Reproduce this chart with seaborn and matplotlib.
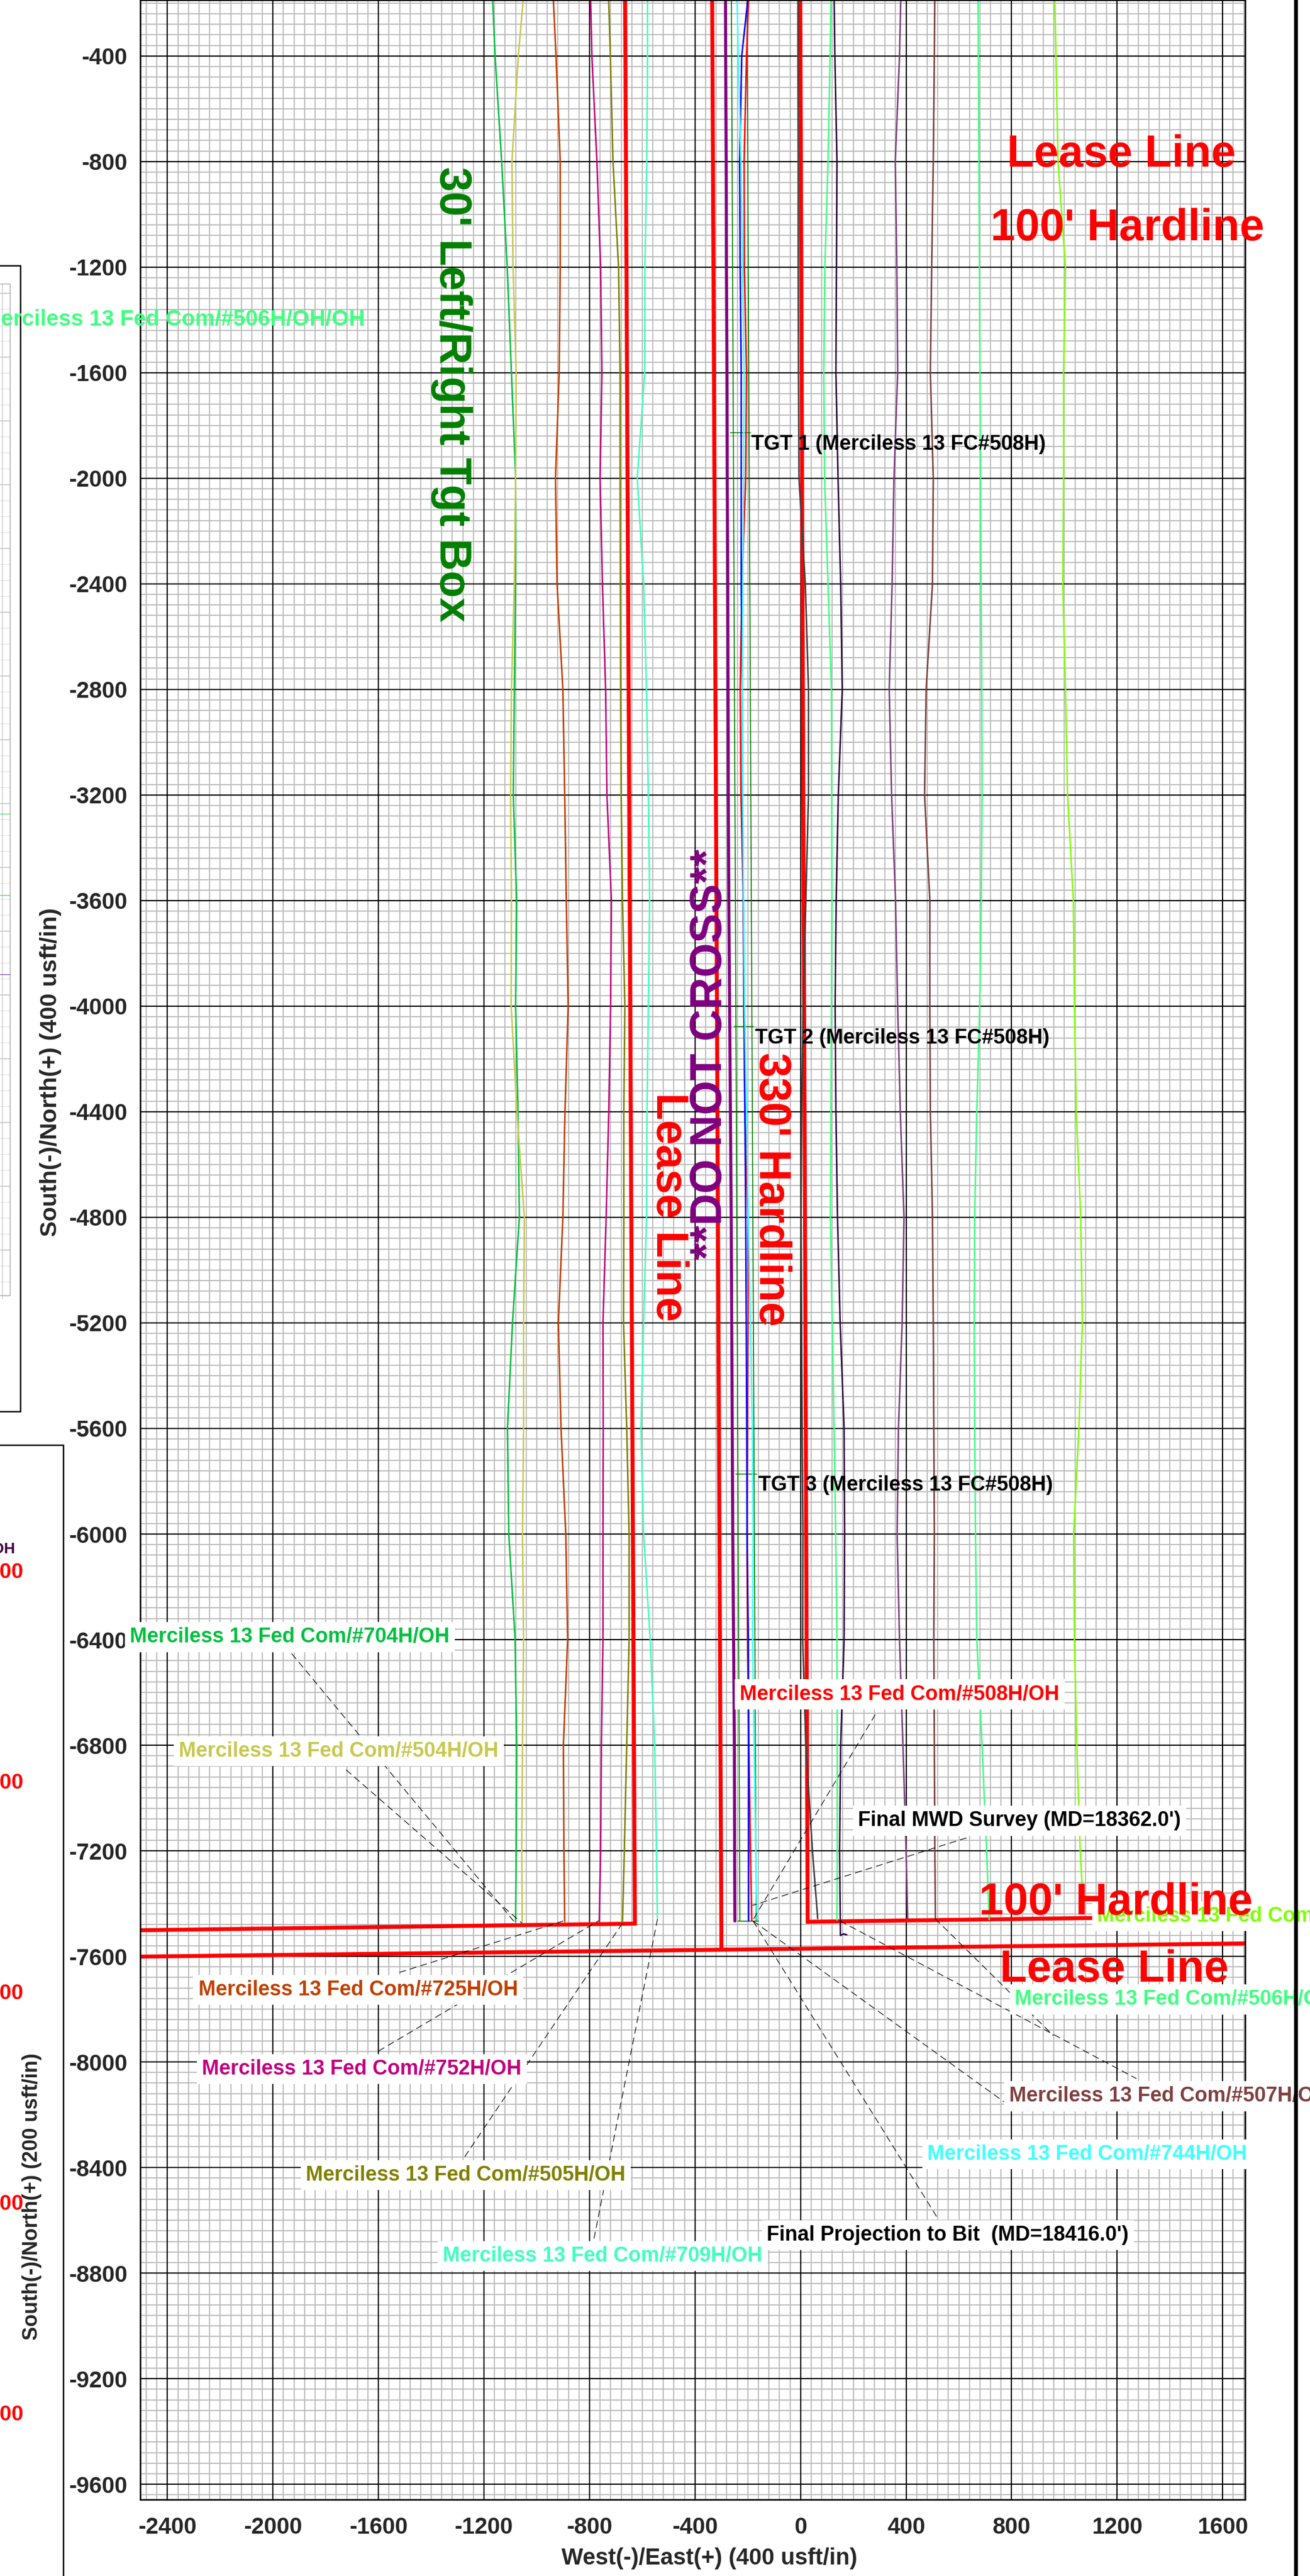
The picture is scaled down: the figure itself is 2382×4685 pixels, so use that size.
import numpy as np
import pandas as pd
import matplotlib
matplotlib.use("Agg")
import matplotlib.pyplot as plt
import seaborn as sns
from matplotlib.ticker import MultipleLocator
from matplotlib.lines import Line2D
from matplotlib.patches import Rectangle

W, H = 2382, 4685

# ---------------- well data (West/East offset at each South/North depth) ----------------
depth = [0, -400, -800, -1200, -1600, -2000, -2400, -2800, -3200, -3600,
         -4000, -4400, -4800, -5200, -5600, -6000, -6400, -6800, -7200]

x_704h = [-1175, -1158, -1133, -1112, -1096, -1080, -1080, -1085, -1089, -1076,
          -1080, -1071, -1066, -1092, -1111, -1106, -1082, -1076, -1078]
x_504h = [-1035, -1070, -1094, -1090, -1078, -1080, -1085, -1096, -1099, -1096,
          -1097, -1075, -1047, -1050, -1050, -1054, -1050, -1054, -1057]
x_725h = [-946, -927, -911, -911, -915, -929, -923, -901, -894, -888,
          -881, -893, -901, -918, -908, -890, -883, -899, -897]
x_752h = [-800, -791, -772, -758, -753, -760, -751, -739, -734, -717,
          -720, -727, -737, -749, -748, -749, -749, -755, -758]
x_505h = [-733, -721, -711, -690, -684, -684, -683, -682, -680, -675,
          -666, -670, -670, -671, -659, -650, -650, -659, -668]
x_709h = [-580, -580, -583, -590, -591, -619, -595, -584, -577, -572,
          -577, -582, -584, -595, -605, -595, -570, -553, -546]
x_508h = [-190, -205, -214, -213, -205, -208, -222, -229, -226, -217,
          -215, -211, -199, -199, -201, -203, -201, -196, -190]
x_blue = [-180, -223, -231, -229, -225, -225, -225, -221, -220, -217,
          -214, -211, -208, -206, -204, -203, -198, -197, -197]
x_744h = [-245, -236, -226, -220, -214, -216, -219, -221, -219, -216,
          -212, -205, -198, -190, -183, -180, -182, -176, -170]
x_grey = [-10, -10, -9, -9, -8, -6, 18, 30, 30, 20,
          10, 4, 2, 4, 6, 9, 8, 20, 45]
x_green = [118, 112, 104, 92, 88, 91, 104, 117, 118, 119,
           117, 115, 113, 120, 127, 133, 138, 139, 139]
x_dkpurple = [125, 130, 138, 136, 134, 142, 152, 158, 143, 135,
              131, 134, 140, 150, 165, 167, 165, 152, 148]
x_purple = [384, 375, 359, 365, 368, 354, 347, 336, 345, 360,
            368, 378, 392, 385, 371, 366, 375, 388, 400]
x_507h = [510, 507, 503, 497, 492, 503, 500, 476, 470, 490,
          490, 492, 500, 503, 505, 507, 505, 507, 509]
x_506h = [672, 674, 676, 678, 680, 682, 684, 687, 688, 685,
          679, 668, 660, 658, 660, 663, 668, 688, 705]
x_lime = [960, 968, 976, 1004, 997, 997, 994, 1004, 1012, 1034,
          1038, 1045, 1062, 1068, 1055, 1035, 1038, 1047, 1060]
x_plan = [-285, -284, -282, -281, -279, -278, -276, -275, -274, -272,
          -269, -266, -263, -261, -259, -257, -254, -251, -250]

well_names = ['704H', '504H', '725H', '752H', '505H', '709H', '508H', 'blue', '744H',
              'grey', 'green', 'dkpurple', 'purple', '507H', '506H', 'lime']
well_x = [x_704h, x_504h, x_725h, x_752h, x_505h, x_709h, x_508h, x_blue, x_744h,
          x_grey, x_green, x_dkpurple, x_purple, x_507h, x_506h, x_lime]
well_colors = ['#00C040', '#C8C850', '#C04000', '#C0007F', '#808000', '#40FFC0', '#FF0000',
               '#0000FF', '#40FFFF', '#404040', '#40FF80', '#300A40', '#804080', '#804040',
               '#40FF80', '#80FF00']
end_x = [-1080, -1055, -894, -763, -675, -543, -185, -197, -165,
         65, 138, 151, 406, 511, 715, 1072]
end_y = [-7470, -7470, -7468, -7468, -7470, -7455, -7466, -7466, -7462,
         -7457, -7462, -7521, -7457, -7457, -7460, -7420]
dp_hook_x = [163, 175]
dp_hook_y = [-7515, -7518]
plan_end = (-249, -7466)

# lease / hardline boundaries
hl_west_x = [-2503, -628, -666]
hl_west_y = [-7501, -7476, 0]
lease_v_x = [-336, -300]
lease_v_y = [0, -7574]
lease_h_x = [-2503, 1685]
lease_h_y = [-7601, -7551]
hl_east_x = [-2, 27, 1450]
hl_east_y = [0, -7469, -7450]

# 30' target box
tb_y = [0, -7466]
tb_left_x = [-263, -230]
tb_right_x = [-204, -168]
tgt_y = [-1828, -4078, -5772]
tgt_x0 = [-267, -252, -246]
tgt_x1 = [-190, -179, -167]

# leader lines (label -> well end)
lead_x0 = [-1929, -1723, -1521, -1600, -1273, -783, 283, 629, -180, -180, 150, 510]
lead_y0 = [-6453, -6893, -7661, -7959, -8359, -8669, -6684, -7151, -7466, -7466, -7466, -7457]
lead_x1 = [-1081, -1056, -896, -765, -675, -542, -178, -183, 771, 519, 1273, 958]
lead_y1 = [-7474, -7474, -7465, -7465, -7474, -7457, -7458, -7407, -8151, -8591, -8063, -7900]

label_text = ['Merciless 13 Fed Com/#704H/OH', 'Merciless 13 Fed Com/#504H/OH',
              'Merciless 13 Fed Com/#725H/OH', 'Merciless 13 Fed Com/#752H/OH',
              'Merciless 13 Fed Com/#505H/OH', 'Merciless 13 Fed Com/#709H/OH',
              'Merciless 13 Fed Com/#508H/OH', "Final MWD Survey (MD=18362.0')",
              'Merciless 13 Fed Com', 'Merciless 13 Fed Com/#506H/OH',
              'Merciless 13 Fed Com/#507H/OH', 'Merciless 13 Fed Com/#744H/OH',
              "Final Projection to Bit  (MD=18416.0')"]
label_color = ['#00C040', '#C8C850', '#C04000', '#C0007F', '#808000', '#40FFC0', '#FF0000',
               'black', '#80FF00', '#40FF80', '#804040', '#40FFFF', 'black']
label_x = [-2542, -2357, -2283, -2269, -1875, -1356, -230, 218, 1125, 812, 791, 481, -128]
label_y = [-6390, -6823, -7727, -8027, -8429, -8735, -6608, -7086, -7448, -7763, -8130, -8350, -8656]

tgt_text = ['TGT 1 (Merciless 13 FC#508H)', 'TGT 2 (Merciless 13 FC#508H)',
            'TGT 3 (Merciless 13 FC#508H)']
tgt_lx = [-187, -172, -160]
tgt_ly = [-1872, -4121, -5815]

side_labels = ['-6800', '-7200', '-7600', '-8000', '-8400']
side_label_y = [2860, 3243, 3626, 4009, 4392]

# ---------------- build long table ----------------
rows = []
for name, xs, ex, ey in zip(well_names, well_x, end_x, end_y):
    for xv, yv in zip(xs, depth):
        rows.append((name, xv, yv))
    rows.append((name, ex, ey))
    if name == 'dkpurple':
        for hx, hy in zip(dp_hook_x, dp_hook_y):
            rows.append((name, hx, hy))
df = pd.DataFrame(rows, columns=['well', 'x', 'y'])
palette = dict(zip(well_names, well_colors))

plan_df = pd.DataFrame({'x': x_plan + [plan_end[0]], 'y': depth + [plan_end[1]]})

# ---------------- plotting ----------------
sns.set_style("white")
plt.rcParams['font.family'] = ['Liberation Sans', 'DejaVu Sans']
plt.rcParams['axes.unicode_minus'] = False

fig = plt.figure(figsize=(W / 100, H / 100), dpi=100)
ax = fig.add_axes([255 / W, 1 - 4546 / H, 2009 / W, 4546 / H])
ax.set_xlim(-2503, 1685)
ax.set_ylim(-9658, -188)

xt = np.arange(-2400, 1601, 400)
yt = np.arange(-9600, -399, 400)
ax.set_xticks(xt)
ax.set_yticks(yt)
ax.xaxis.set_minor_locator(MultipleLocator(40))
ax.yaxis.set_minor_locator(MultipleLocator(40))
ax.set_axisbelow(True)
ax.grid(which='major', visible=False)
ax.grid(which='minor', color='#BCBCBC', lw=1.5)
for v in xt:
    ax.axvline(v, color='black', lw=1.6, zorder=0.8)
for v in yt:
    ax.axhline(v, color='black', lw=1.6, zorder=0.8)

ax.tick_params(which='major', direction='out', length=13.7, width=1.5, labelsize=30)
ax.tick_params(which='minor', direction='out', length=5.8, width=1.2)
ax.tick_params(axis='x', which='major', pad=8.6)
ax.tick_params(axis='y', which='major', pad=2.9)
for lbl in ax.get_xticklabels() + ax.get_yticklabels():
    lbl.set_fontweight('bold')
for sp in ax.spines.values():
    sp.set_linewidth(2)
    sp.set_color('black')

# boundaries
red_lw = 5.2
ax.plot(hl_west_x, hl_west_y, color='#FF0000', lw=red_lw, zorder=2, solid_joinstyle='miter')
ax.plot(lease_v_x, lease_v_y, color='#FF0000', lw=red_lw, zorder=2)
ax.plot(lease_h_x, lease_h_y, color='#FF0000', lw=red_lw, zorder=2)
ax.plot(hl_east_x, hl_east_y, color='#FF0000', lw=red_lw, zorder=2, solid_joinstyle='miter')

# target box
ax.plot(tb_left_x, tb_y, color='#008000', lw=1.3, zorder=2.2)
ax.plot(tb_right_x, tb_y, color='#008000', lw=1.3, zorder=2.2)
ax.plot([tb_left_x[1] - 8, tb_right_x[1] + 8], [tb_y[1], tb_y[1]], color='#008000', lw=1.3, zorder=2.2)
for y0, a, b in zip(tgt_y, tgt_x0, tgt_x1):
    ax.plot([a, b], [y0, y0], color='#008000', lw=1.2, zorder=2.2)

# wells
sns.lineplot(data=plan_df, x='x', y='y', sort=False, estimator=None, color='#800080',
             lw=4, ax=ax, zorder=2.4)
sns.lineplot(data=df, x='x', y='y', hue='well', palette=palette, sort=False,
             estimator=None, lw=2.0, legend=False, ax=ax, zorder=2.5)
ax.set_xlabel('')
ax.set_ylabel('')

# leader lines
for a, b, c, d in zip(lead_x0, lead_y0, lead_x1, lead_y1):
    ax.plot([a, c], [b, d], color='black', lw=0.9, ls=(0, (10, 6)), zorder=5)

# well labels
for t, c, x0, y0 in zip(label_text, label_color, label_x, label_y):
    ax.text(x0, y0, t, color=c, fontsize=27, fontweight='bold', ha='left', va='center',
            zorder=6, clip_on=False,
            bbox=dict(boxstyle='square,pad=0.25', fc='white', ec='none'))

for t, x0, y0 in zip(tgt_text, tgt_lx, tgt_ly):
    ax.text(x0, y0, t, color='black', fontsize=27, fontweight='bold', ha='left',
            va='center', zorder=7)

# big annotations
big = dict(fontsize=58, fontweight='bold', clip_on=False)
ax.text(783, -820, 'Lease Line', color='#FF0000', ha='left', va='baseline', zorder=7, **big)
ax.text(720, -1099, "100' Hardline", color='#FF0000', ha='left', va='baseline', zorder=7, **big)
ax.text(677, -7441, "100' Hardline", color='#FF0000', ha='left', va='baseline', zorder=7, **big)
ax.text(755, -7696, 'Lease Line', color='#FF0000', ha='left', va='baseline', zorder=4.5, **big)
ax.text(-1324, -1682, "30' Left/Right Tgt Box", color='#008000', rotation=-90,
        ha='center', va='center', zorder=7, fontsize=58, fontweight='bold')
ax.text(-502, -4760, 'Lease Line', color='#FF0000', rotation=-90,
        ha='center', va='center', zorder=7, fontsize=58, fontweight='bold')
ax.text(-112, -4694, "330' Hardline", color='#FF0000', rotation=-90,
        ha='center', va='center', zorder=7, fontsize=58, fontweight='bold')
ax.text(-343, -4182, '**DO NOT CROSS**', color='#800080', rotation=90,
        ha='center', va='center', zorder=7, fontsize=58, fontweight='bold')

# axis titles
def fx(X):
    return X / W

def fy(Y):
    return 1 - Y / H

fig.text(fx(92), fy(1950), 'South(-)/North(+) (400 usft/in)', rotation=90, ha='center',
         va='center', fontsize=31, fontweight='bold')
fig.text(fx(1290), fy(4653), 'West(-)/East(+) (400 usft/in)', ha='center', va='center',
         fontsize=30, fontweight='bold')

# ---------------- cropped neighbouring panels on the left ----------------
fig.add_artist(Rectangle((fx(-10), fy(2567)), (37 + 10) / W, (2567 - 483) / H,
                         transform=fig.transFigure, fill=False, ec='black', lw=1.8))
for Y in np.arange(533, 2356, 29):
    fig.add_artist(Line2D([fx(0), fx(18)], [fy(Y), fy(Y)], color='#E0E0E0', lw=0.8))
for Y in np.arange(533, 2356, 116):
    fig.add_artist(Line2D([fx(0), fx(18)], [fy(Y), fy(Y)], color='#B8B8B8', lw=1.0))
fig.add_artist(Line2D([fx(4), fx(4)], [fy(516), fy(2362)], color='#C8C8C8', lw=1.0))
fig.add_artist(Line2D([fx(18), fx(18)], [fy(516), fy(2356)], color='#A0A0A0', lw=1.0))
fig.add_artist(Line2D([fx(0), fx(18)], [fy(516), fy(516)], color='#A0A0A0', lw=1.0))
fig.add_artist(Line2D([fx(0), fx(18)], [fy(2356), fy(2356)], color='#A0A0A0', lw=1.0))
for Y, c in zip([1480, 1628, 1772], ['#40E060', '#40E060', '#8040C0']):
    fig.add_artist(Line2D([fx(0), fx(18)], [fy(Y), fy(Y)], color=c, lw=1.0))
fig.text(fx(664), fy(580), 'Merciless 13 Fed Com/#506H/OH/OH', color='#40FF80',
         fontsize=29, fontweight='bold', ha='right', va='center')

fig.add_artist(Rectangle((fx(-10), fy(4700)), (115 + 10) / W, (4700 - 2628) / H,
                         transform=fig.transFigure, fill=False, ec='black', lw=1.8))
for t, Y in zip(side_labels, side_label_y):
    fig.text(fx(43), fy(Y), t, color='#FF0000', fontsize=28, fontweight='bold',
             ha='right', va='center')
fig.text(fx(28), fy(2818), '/OH', color='#400040', fontsize=20, fontweight='bold',
         ha='right', va='center')
fig.text(fx(58), fy(3995), 'South(-)/North(+) (200 usft/in)', rotation=90, ha='center',
         va='center', fontsize=27, fontweight='bold')

# right frame border
fig.add_artist(Line2D([fx(2356), fx(2356)], [0, 1], color='black', lw=5))

fig.savefig('out.png', dpi=100)
